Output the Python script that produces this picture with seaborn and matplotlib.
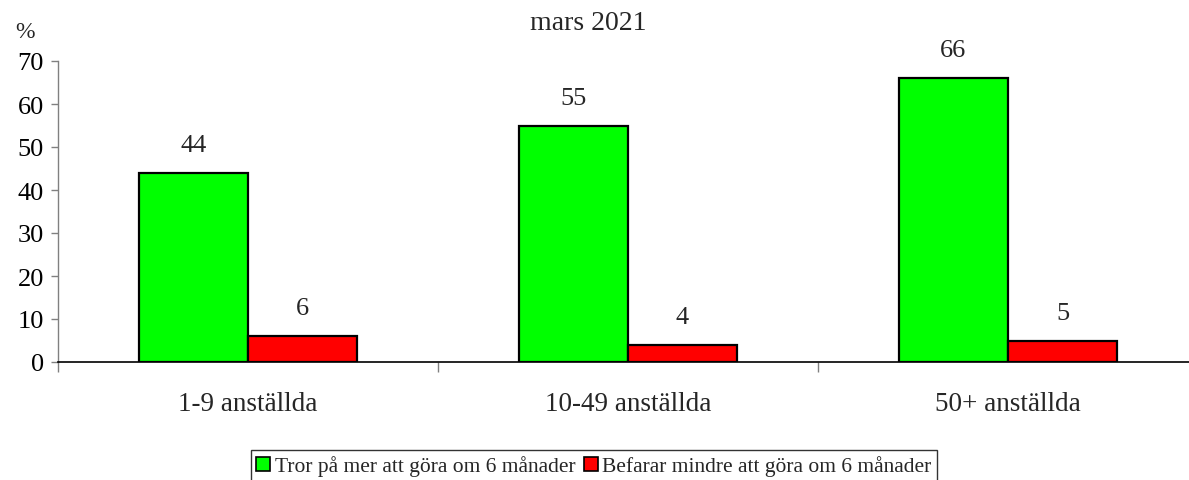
import matplotlib
matplotlib.use("Agg")
import matplotlib.pyplot as plt
import seaborn as sns
import pandas as pd
from matplotlib.patches import Patch

categories = ["1-9 anställda", "10-49 anställda", "50+ anställda"]
series = ["Tror på mer att göra om 6 månader", "Befarar mindre att göra om 6 månader"]
tror = [44, 55, 66]
befarar = [6, 4, 5]
colors = ["#00FF00", "#FF0000"]
yticks = [0, 10, 20, 30, 40, 50, 60, 70]

df = pd.DataFrame({
    "kategori": categories * 2,
    "serie": [series[0]] * 3 + [series[1]] * 3,
    "värde": tror + befarar,
})

sns.set_theme(style="white")
plt.rcParams["font.family"] = ["Liberation Serif", "DejaVu Serif"]

W, H = 1189, 481
fig = plt.figure(figsize=(W / 100, H / 100), dpi=100)
ax = fig.add_axes([58 / W, 118 / H, 1140 / W, 301 / H])

sns.barplot(data=df, x="kategori", y="värde", hue="serie", palette=colors,
            width=0.574, edgecolor="black", linewidth=1.6, ax=ax, legend=False,
            saturation=1)

ax.set_xlim(-0.5, 2.5)
ax.set_ylim(0, 70)
ax.set_yticks(yticks)
ax.set_yticklabels([str(t) for t in yticks], fontsize=19)
ax.set_xticks([-0.5, 0.5, 1.5, 2.5])
ax.set_xticklabels([])
ax.set_xlabel("")
ax.set_ylabel("")
for i, c in enumerate(categories):
    ax.text(i, -0.137, c, transform=ax.get_xaxis_transform(),
            ha="center", va="center", fontsize=19.5)

ax.tick_params(axis="y", left=True, length=5, width=1, color="#808080",
               labelcolor="black", pad=5)
ax.tick_params(axis="x", bottom=True, length=7, width=1, color="#808080")

for s in ["top", "right"]:
    ax.spines[s].set_visible(False)
ax.spines["left"].set_color("#808080")
ax.spines["left"].set_linewidth(1)
ax.spines["bottom"].set_color("black")
ax.spines["bottom"].set_linewidth(1.2)

for cont in ax.containers:
    for bar in cont:
        h = bar.get_height()
        ax.annotate(f"{h:.0f}", (bar.get_x() + bar.get_width() / 2, h),
                    xytext=(0, 20), textcoords="offset points",
                    ha="center", va="center", fontsize=19)

fig.text(588 / W, 1 - 24 / H, "mars 2021", ha="center", va="center", fontsize=20)
fig.text(25 / W, 1 - 32 / H, "%", ha="center", va="center", fontsize=17)

handles = [Patch(facecolor=colors[i], edgecolor="black", linewidth=1.2) for i in range(2)]
leg = fig.legend(handles, series, loc="center", bbox_to_anchor=(594 / W, 1 - 467 / H),
                 ncol=2, fontsize=15.5, frameon=True, fancybox=False,
                 handlelength=0.65, handleheight=0.65, handletextpad=0.2,
                 columnspacing=0.4, borderpad=0.25, borderaxespad=0)
leg.get_frame().set_edgecolor("black")
leg.get_frame().set_linewidth(1)

fig.savefig("out.png", dpi=100)
